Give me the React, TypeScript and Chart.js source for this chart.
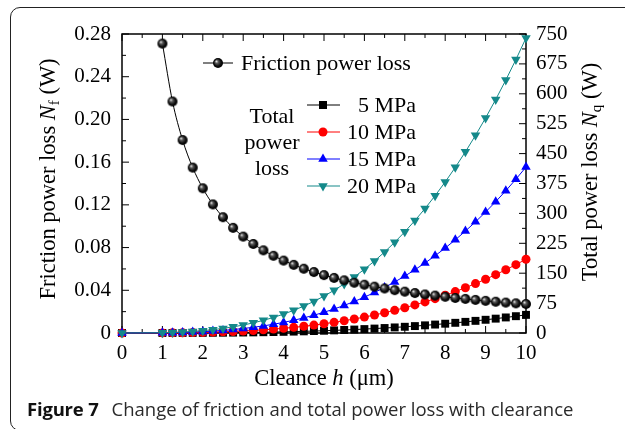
import React, { useEffect, useRef } from 'react';
import { Chart, registerables } from 'chart.js';
Chart.register(...registerables);

// Clearance h (µm)
const H = [1, 1.25, 1.5, 1.75, 2, 2.25, 2.5, 2.75, 3, 3.25, 3.5, 3.75, 4, 4.25, 4.5, 4.75, 5, 5.25, 5.5, 5.75, 6, 6.25, 6.5, 6.75, 7, 7.25, 7.5, 7.75, 8, 8.25, 8.5, 8.75, 9, 9.25, 9.5, 9.75, 10];
// Friction power loss Nf (W)
const FRICTION = [0.271, 0.2168, 0.1807, 0.1549, 0.1355, 0.1204, 0.1084, 0.0985, 0.0903, 0.0834, 0.0774, 0.0723, 0.0678, 0.0638, 0.0602, 0.0571, 0.0542, 0.0516, 0.0493, 0.0471, 0.0452, 0.0434, 0.0417, 0.0401, 0.0387, 0.0374, 0.0361, 0.035, 0.0339, 0.0328, 0.0319, 0.031, 0.0301, 0.0293, 0.0285, 0.0278, 0.0271];
// Total power loss Nq (W), starting at h = 0
const H_TOTAL = [0, ...H];
const P5 = [0, 0.05, 0.09, 0.15, 0.24, 0.36, 0.52, 0.71, 0.95, 1.23, 1.56, 1.95, 2.4, 2.91, 3.49, 4.15, 4.88, 5.69, 6.58, 7.57, 8.65, 9.83, 11.11, 12.5, 13.99, 15.61, 17.34, 19.2, 21.18, 23.3, 25.55, 27.94, 30.48, 33.17, 36.01, 39.01, 42.17, 45.5];
const P10 = [0, 0.19, 0.36, 0.62, 0.99, 1.48, 2.11, 2.89, 3.85, 5.0, 6.35, 7.93, 9.76, 11.84, 14.2, 16.86, 19.83, 23.13, 26.77, 30.78, 35.17, 39.96, 45.17, 50.81, 56.9, 63.46, 70.5, 78.05, 86.11, 94.72, 103.88, 113.61, 123.94, 134.87, 146.42, 158.61, 171.47, 185.0];
const P15 = [0, 0.42, 0.81, 1.4, 2.23, 3.33, 4.74, 6.5, 8.66, 11.24, 14.29, 17.85, 21.95, 26.64, 31.96, 37.93, 44.61, 52.03, 60.23, 69.25, 79.13, 89.91, 101.62, 114.31, 128.02, 142.77, 158.62, 175.61, 193.76, 213.12, 233.73, 255.63, 278.85, 303.45, 329.44, 356.88, 385.81, 416.25];
const P20 = [0, 0.74, 1.45, 2.5, 3.97, 5.92, 8.43, 11.56, 15.39, 19.98, 25.4, 31.73, 39.02, 47.36, 56.81, 67.43, 79.31, 92.5, 107.08, 123.12, 140.68, 159.84, 180.66, 203.22, 227.59, 253.82, 282.0, 312.19, 344.46, 378.88, 415.52, 454.45, 495.74, 539.46, 585.67, 634.46, 685.88, 740.0];

const X_TICKS = [0, 1, 2, 3, 4, 5, 6, 7, 8, 9, 10];
const Y_TICKS = [0, 0.04, 0.08, 0.12, 0.16, 0.2, 0.24, 0.28];
const Y1_TICKS = [0, 75, 150, 225, 300, 375, 450, 525, 600, 675, 750];

const SERIES_LABELS = ['5 MPa', '10 MPa', '15 MPa', '20 MPa'];
const TEAL = '#14898a';
const SERIF = '"Liberation Serif", "Times New Roman", serif';

function makeSphere(r: number): HTMLCanvasElement {
  const c = document.createElement('canvas');
  const s = Math.ceil(r * 2 + 2);
  c.width = s; c.height = s;
  const g = c.getContext('2d')!;
  const cx = s / 2, cy = s / 2;
  const grad = g.createRadialGradient(cx - r * 0.35, cy - r * 0.35, 0.3, cx, cy, r);
  grad.addColorStop(0, '#e0e0e0');
  grad.addColorStop(0.28, '#5a5a5a');
  grad.addColorStop(0.7, '#0d0d0d');
  grad.addColorStop(1, '#000');
  g.fillStyle = grad;
  g.beginPath(); g.arc(cx, cy, r, 0, Math.PI * 2); g.fill();
  return c;
}

type Part = { t: string; font: string; dy?: number };

function drawRich(ctx: CanvasRenderingContext2D, parts: Part[], cx: number, cy: number, rot: number) {
  ctx.save();
  ctx.translate(cx, cy);
  ctx.rotate(rot);
  ctx.textBaseline = 'alphabetic';
  ctx.textAlign = 'left';
  ctx.fillStyle = '#000';
  let total = 0;
  const widths = parts.map(p => { ctx.font = p.font; const w = ctx.measureText(p.t).width; total += w; return w; });
  let x = -total / 2;
  parts.forEach((p, i) => {
    ctx.font = p.font;
    ctx.fillText(p.t, x, 8 + (p.dy || 0));
    x += widths[i];
  });
  ctx.restore();
}

function drawMarker(ctx: CanvasRenderingContext2D, kind: string, x: number, y: number, color: string, sphere: HTMLCanvasElement) {
  ctx.save();
  ctx.fillStyle = color;
  ctx.beginPath();
  if (kind === 'rect') {
    ctx.rect(x - 4, y - 4, 8, 8);
    ctx.fill();
  } else if (kind === 'circle') {
    ctx.arc(x, y, 4.5, 0, Math.PI * 2);
    ctx.fill();
  } else if (kind === 'up') {
    const r = 5.5;
    ctx.moveTo(x, y - r);
    ctx.lineTo(x + r * 0.866, y + r / 2);
    ctx.lineTo(x - r * 0.866, y + r / 2);
    ctx.closePath(); ctx.fill();
  } else if (kind === 'down') {
    const r = 5.5;
    ctx.moveTo(x, y + r);
    ctx.lineTo(x + r * 0.866, y - r / 2);
    ctx.lineTo(x - r * 0.866, y - r / 2);
    ctx.closePath(); ctx.fill();
  } else if (kind === 'sphere') {
    ctx.drawImage(sphere, x - sphere.width / 2, y - sphere.height / 2);
  }
  ctx.restore();
}

export default function App() {
  const ref = useRef<HTMLCanvasElement>(null);
  useEffect(() => {
    const sphere = makeSphere(5);
    const FT = `22.5px ${SERIF}`;
    const FTI = `italic 22.5px ${SERIF}`;
    const FSUB = `15px ${SERIF}`;
    const FL = `22px ${SERIF}`;

    const decor = {
      id: 'decor',
      beforeDatasetsDraw(chart: any) {
        const { ctx, chartArea: a, scales } = chart;
        ctx.save();
        ctx.strokeStyle = '#000';
        ctx.lineWidth = 1;
        const xs = scales.x, ys = scales.y, y1 = scales.y1;
        const tick = (x1: number, yA: number, x2: number, yB: number) => {
          ctx.beginPath(); ctx.moveTo(x1, yA); ctx.lineTo(x2, yB); ctx.stroke();
        };
        for (let i = 0; i < X_TICKS.length; i++) {
          const px = xs.getPixelForValue(X_TICKS[i]);
          tick(px, a.bottom, px, a.bottom - 7);
          tick(px, a.top, px, a.top + 7);
          if (i < X_TICKS.length - 1) {
            const pm = xs.getPixelForValue((X_TICKS[i] + X_TICKS[i + 1]) / 2);
            tick(pm, a.bottom, pm, a.bottom - 4);
            tick(pm, a.top, pm, a.top + 4);
          }
        }
        for (let i = 0; i < Y_TICKS.length; i++) {
          const py = ys.getPixelForValue(Y_TICKS[i]);
          tick(a.left, py, a.left + 7, py);
          if (i < Y_TICKS.length - 1) {
            const pm = ys.getPixelForValue((Y_TICKS[i] + Y_TICKS[i + 1]) / 2);
            tick(a.left, pm, a.left + 4, pm);
          }
        }
        for (let i = 0; i < Y1_TICKS.length; i++) {
          const py = y1.getPixelForValue(Y1_TICKS[i]);
          tick(a.right, py, a.right - 7, py);
          if (i < Y1_TICKS.length - 1) {
            const pm = y1.getPixelForValue((Y1_TICKS[i] + Y1_TICKS[i + 1]) / 2);
            tick(a.right, pm, a.right - 4, pm);
          }
        }
        ctx.lineWidth = 1.5;
        ctx.strokeRect(a.left, a.top, a.right - a.left, a.bottom - a.top);
        ctx.restore();
      },
      afterDraw(chart: any) {
        const { ctx, chartArea: a } = chart;
        // Axis titles
        drawRich(ctx, [
          { t: 'Cleance ', font: FT },
          { t: 'h', font: FTI },
          { t: ' (\u03bcm)', font: FT },
        ], (a.left + a.right) / 2, 377, 0);
        drawRich(ctx, [
          { t: 'Friction power loss ', font: FT },
          { t: 'N', font: FTI },
          { t: 'f', font: FSUB, dy: 4 },
          { t: ' (W)', font: FT },
        ], 47, 179, -Math.PI / 2);
        drawRich(ctx, [
          { t: 'Total power loss ', font: FT },
          { t: 'N', font: FTI },
          { t: 'q', font: FSUB, dy: 4 },
          { t: ' (W)', font: FT },
        ], 589, 172, -Math.PI / 2);

        // Legend
        ctx.save();
        ctx.font = FL;
        ctx.fillStyle = '#000';
        ctx.textBaseline = 'middle';
        ctx.strokeStyle = '#000';
        ctx.lineWidth = 1;
        ctx.beginPath(); ctx.moveTo(203, 63); ctx.lineTo(233, 63); ctx.stroke();
        drawMarker(ctx, 'sphere', 218, 63, '#000', sphere);
        ctx.textAlign = 'left';
        ctx.fillText('Friction power loss', 241, 64);

        ctx.textAlign = 'center';
        ctx.fillText('Total', 272, 117);
        ctx.fillText('power', 272, 143);
        ctx.fillText('loss', 272, 169);

        const colors = ['#000', '#ff0000', '#0000ff', TEAL];
        const kinds = ['rect', 'circle', 'up', 'down'];
        const ys = [105, 132, 159, 186];
        for (let i = 0; i < 4; i++) {
          ctx.strokeStyle = colors[i];
          ctx.beginPath(); ctx.moveTo(307, ys[i]); ctx.lineTo(340, ys[i]); ctx.stroke();
          drawMarker(ctx, kinds[i], 323, ys[i], colors[i], sphere);
          ctx.fillStyle = '#000';
          ctx.textAlign = 'right';
          ctx.fillText(SERIES_LABELS[i], 416, ys[i] + 1);
        }
        ctx.restore();
      },
    };

    const pts = (xs: number[], ys: number[]) => xs.map((x, i) => ({ x, y: ys[i] }));
    const base = { showLine: true, borderWidth: 1, clip: false as any, pointBorderWidth: 0, tension: 0 };
    const tickFont = { family: SERIF, size: 21 };

    const chart = new Chart(ref.current!, {
      type: 'scatter',
      data: {
        datasets: [
          { ...base, label: 'Friction power loss', data: pts(H, FRICTION), yAxisID: 'y', borderColor: '#000', pointStyle: sphere as any, pointRadius: 5, cubicInterpolationMode: 'monotone', order: 0 },
          { ...base, label: SERIES_LABELS[3], data: pts(H_TOTAL, P20), yAxisID: 'y1', borderColor: TEAL, backgroundColor: TEAL, pointStyle: 'triangle', pointRotation: 180, pointRadius: 5.5, order: 1 },
          { ...base, label: SERIES_LABELS[2], data: pts(H_TOTAL, P15), yAxisID: 'y1', borderColor: '#0000ff', backgroundColor: '#0000ff', pointStyle: 'triangle', pointRadius: 5.5, order: 2 },
          { ...base, label: SERIES_LABELS[1], data: pts(H_TOTAL, P10), yAxisID: 'y1', borderColor: '#ff0000', backgroundColor: '#ff0000', pointStyle: 'circle', pointRadius: 4.5, order: 3 },
          { ...base, label: SERIES_LABELS[0], data: pts(H_TOTAL, P5), yAxisID: 'y1', borderColor: '#000', backgroundColor: '#000', pointStyle: 'rect', pointRadius: 5.6, order: 4 },
        ],
      } as any,
      options: {
        animation: false,
        responsive: false,
        maintainAspectRatio: false,
        events: [],
        layout: { padding: { top: 34, bottom: 56, left: 0, right: 0 } },
        plugins: { legend: { display: false }, tooltip: { enabled: false }, title: { display: false } },
        scales: {
          x: {
            type: 'linear', position: 'bottom', min: 0, max: 10,
            grid: { display: false, drawTicks: false }, border: { display: false },
            afterBuildTicks: (s: any) => { s.ticks = X_TICKS.map(v => ({ value: v })); },
            afterFit: (s: any) => { s.height = 40; },
            ticks: { color: '#000', font: tickFont, padding: 8, autoSkip: false, maxRotation: 0, callback: (v: any) => String(v) },
          },
          y: {
            type: 'linear', position: 'left', min: 0, max: 0.28,
            grid: { display: false, drawTicks: false }, border: { display: false },
            afterBuildTicks: (s: any) => { s.ticks = Y_TICKS.map(v => ({ value: v })); },
            afterFit: (s: any) => { s.width = 122; },
            ticks: { color: '#000', font: tickFont, padding: 11, autoSkip: false, callback: (v: any) => (v === 0 ? '0' : Number(v).toFixed(2)) },
          },
          y1: {
            type: 'linear', position: 'right', min: 0, max: 750,
            grid: { display: false, drawTicks: false }, border: { display: false },
            afterBuildTicks: (s: any) => { s.ticks = Y1_TICKS.map(v => ({ value: v })); },
            afterFit: (s: any) => { s.width = 99; },
            ticks: { color: '#000', font: tickFont, padding: 10, autoSkip: false, callback: (v: any) => String(v) },
          },
        },
      } as any,
      plugins: [decor],
    });
    return () => chart.destroy();
  }, []);

  return (
    <div style={{ position: 'fixed', left: 0, top: 0, width: 625, height: 429, background: '#fff', overflow: 'hidden' }}>
      <div style={{ position: 'absolute', left: 10, top: 7, width: 700, height: 424, border: '1px solid #222', borderRadius: 10, boxSizing: 'border-box' }} />
      <canvas ref={ref} width={625} height={429} style={{ position: 'absolute', left: 0, top: 0, width: 625, height: 429 }} />
      <div style={{ position: 'absolute', left: 27, top: 396, whiteSpace: 'nowrap', fontFamily: '"Open Sans", sans-serif', fontSize: 18.5, lineHeight: '26px', color: '#2a2a2a' }}>
        <span style={{ fontWeight: 700, color: '#111', fontSize: 18.5, letterSpacing: '-0.2px' }}>Figure 7</span>
        <span style={{ marginLeft: 13 }}>Change of friction and total power loss with clearance</span>
      </div>
    </div>
  );
}
